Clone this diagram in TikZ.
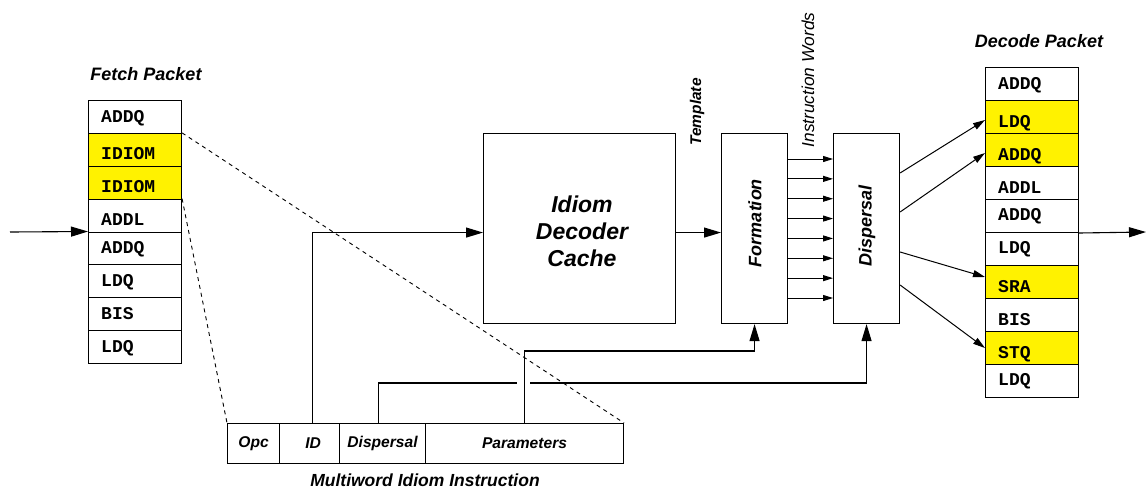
\documentclass[tikz,border=0pt]{standalone}
\usepackage{fontspec}
\setmainfont{Liberation Sans}
\newfontfamily\monof{Liberation Mono}
\usetikzlibrary{arrows.meta}
\tikzset{
  cell/.style={draw, line width=1.1pt, minimum width=93pt, minimum height=32.9pt, inner sep=0pt, anchor=north west},
  box/.style={draw, line width=1.1pt, inner sep=0pt, anchor=north west},
  field/.style={draw, line width=1.1pt, inner sep=0pt, anchor=north west, minimum height=40pt, font=\fontsize{15.6}{18}\selectfont\bfseries\itshape},
  celltext/.style={anchor=base west, inner sep=0pt, font=\fontsize{18}{20}\selectfont\monof\bfseries},
  lab/.style={inner sep=0pt, font=\fontsize{18}{21}\selectfont\bfseries\itshape},
  bigarrow/.style={line width=1.1pt, -{Triangle[length=17pt,width=10pt]}},
  smallarrow/.style={line width=1pt, -{Triangle[length=10pt,width=6pt]}},
  medarrow/.style={line width=1pt, -{Triangle[length=12pt,width=7pt]}},
  dashline/.style={line width=0.9pt, dash pattern=on 4pt off 4pt},
}
\begin{document}
\begin{tikzpicture}[x=1pt,y=-1pt]
\useasboundingbox (0,0) rectangle (1146,491);
% Fetch packet
\foreach \t/\c/\o [count=\i] in {ADDQ/white/22,IDIOM/yellow/27,IDIOM/yellow/27,ADDL/white/27,ADDQ/white/22,LDQ/white/22,BIS/white/22,LDQ/white/22}{
  \node[cell, fill=\c] (f\i) at (88,{100+(\i-1)*32.875}) {};
  \node[celltext] (ft\i) at (101,{100+(\i-1)*32.875+\o}) {\t};
}
\node[lab, anchor=base] (fetchlab) at (146,80) {Fetch Packet};
% Decode packet
\foreach \t/\c/\o [count=\i] in {ADDQ/white/22,LDQ/yellow/27.5,ADDQ/yellow/27,ADDL/white/27,ADDQ/white/21,LDQ/white/21.5,SRA/yellow/27,BIS/white/27,STQ/yellow/27,LDQ/white/21}{
  \node[cell, fill=\c] (d\i) at (985,{67+(\i-1)*33}) {};
  \node[celltext] (dt\i) at (998,{67+(\i-1)*33+\o}) {\t};
}
\node[lab, anchor=base] (decodelab) at (1039,47) {Decode Packet};
% Idiom decoder cache
\node[box, minimum width=192pt, minimum height=190pt] (idc) at (483,133) {};
\node[inner sep=0pt, align=center, font=\fontsize{23}{27}\selectfont\bfseries\itshape] (idctext) at (582,231) {Idiom\\Decoder\\Cache};
% Formation and Dispersal
\node[box, minimum width=66pt, minimum height=190pt] (form) at (721,133) {};
\node[lab, rotate=90] (formtext) at (755,223) {Formation};
\node[box, minimum width=66pt, minimum height=190pt] (disp) at (833,133) {};
\node[lab, rotate=90] (disptext) at (867,226) {Dispersal};
\node[inner sep=0pt, rotate=90, font=\fontsize{15.5}{18}\selectfont\bfseries\itshape] (templ) at (697,112) {Template};
\node[inner sep=0pt, rotate=90, font=\fontsize{17.3}{19}\selectfont\itshape] (iw) at (808,80) {Instruction Words};
% Instruction fields
\node[field, minimum width=52pt] (fopc) at (227,423) {Opc};
\node[field, minimum width=60pt] (fid) at (279,423) {\hspace*{7pt}ID};
\node[field, minimum width=86pt] (fdisp) at (339,423) {Dispersal};
\node[field, minimum width=198pt] (fpar) at (425,423) {Parameters};
\node[lab, anchor=base, font=\fontsize{17.5}{21}\selectfont\bfseries\itshape] (mwlab) at (425,486) {Multiword Idiom Instruction};
% Dashed expansion lines
\draw[dashline] (f2.north east) -- (fpar.north east);
\draw[dashline] (f4.north east) -- (fopc.north west);
% Input / output
\coordinate (in) at (10,232);
\draw[bigarrow] (in) -- (f5.north west);
\coordinate (out) at (1146,232);
\draw[bigarrow] (d5.south east) -- (out);
% ID to cache
\draw[bigarrow] ([xshift=3pt]fid.north) |- ([yshift=-4pt]idc.west);
% Template
\draw[bigarrow] ([yshift=-4pt]idc.east) -- ([yshift=-4pt]form.west);
% Instruction words
\foreach \k in {0,...,7}{
  \pgfmathsetmacro{\yy}{-(26+\k*19.857)}
  \draw[smallarrow] ([yshift=\yy pt]form.north east) -- ([yshift=\yy pt]disp.north west);
}
% Parameters to formation
\draw[bigarrow] (fpar.north) -- ++(0,-72) -| (form.south);
% Dispersal field to dispersal (with gap)
\coordinate (gapL) at (517,383);
\coordinate (gapR) at (530,383);
\draw[line width=1.1pt] ([xshift=-4pt]fdisp.north) |- (gapL);
\draw[bigarrow] (gapR) -| (disp.south);
% Dispersal to decode
\draw[medarrow] ([yshift=-40pt]disp.north east) -- ([yshift=-20pt]d2.north west);
\draw[medarrow] ([yshift=-79pt]disp.north east) -- ([yshift=-20pt]d3.north west);
\draw[medarrow] ([yshift=-119pt]disp.north east) -- ([yshift=-12pt]d7.north west);
\draw[medarrow] ([yshift=-152pt]disp.north east) -- ([yshift=-17pt]d9.north west);
\end{tikzpicture}
\end{document}
